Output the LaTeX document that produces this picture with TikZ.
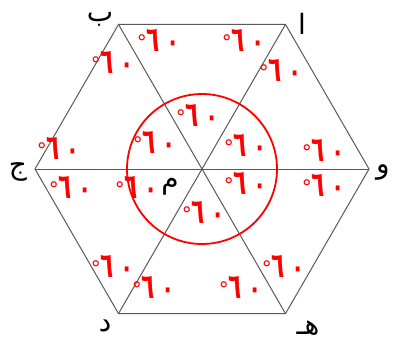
\documentclass[tikz,border=0pt]{standalone}
\usepackage{fontspec}
\usepackage{graphicx}
\newfontfamily\arabicfont[Script=Arabic]{DejaVu Sans}
\newfontfamily\degfont{DejaVu Sans}
\TeXXeTstate=1
\newcommand{\sixty}{\hbox{\degfont\fontsize{20}{20}\selectfont\raisebox{2pt}{°}}\kern0pt%
  \hbox{\scalebox{0.9}[1.45]{\arabicfont\bfseries ٦}}\kern6pt%
  \hbox{\scalebox{0.9}[1.2]{\arabicfont\bfseries ٠}}}
\begin{document}
\begin{tikzpicture}[x=1pt,y=-1pt,
  edge/.style={draw=black!65, line width=1pt},
  ang/.style={text=red, font=\arabicfont\fontsize{24}{24}\selectfont, inner sep=0pt},
  vlabel/.style={font=\arabicfont\fontsize{28}{28}\selectfont, inner sep=0pt}]
\useasboundingbox (0,0) rectangle (395,349);
\coordinate (M) at (202,169);
\coordinate (A) at (285.5,24.4);
\coordinate (B) at (118.5,24.4);
\coordinate (J) at (35,169);
\coordinate (W) at (369,169);
\coordinate (D) at (118.5,313.6);
\coordinate (H) at (285.5,313.6);
\draw[edge] (A) -- (B) -- (J) -- (D) -- (H) -- (W) -- cycle;
\draw[edge] (A) -- (D);
\draw[edge] (B) -- (H);
\draw[edge] (J) -- (W);
\draw[red, line width=1.8pt] (M) circle [radius=75pt];
% vertex letters
\node[vlabel] (lA) at (302,24) {\beginR ا\endR};
\node[vlabel] (lB) at (100,19) {\beginR ب\endR};
\node[vlabel] (lJ) at (18,172) {\beginR ج\endR};
\node[vlabel] (lW) at (383,172) {\beginR و\endR};
\node[vlabel] (lD) at (105,326) {\beginR د\endR};
\node[vlabel] (lH) at (308,328) {\beginR هـ\endR};
\node[vlabel] (lM) at (170,187) {\beginR م\endR};
% angle labels
\node[ang] (t1) at (158,40) {\sixty};
\node[ang] (t2) at (243,40) {\sixty};
\node[ang] (t3) at (112,62) {\sixty};
\node[ang] (t4) at (280,70) {\sixty};
\node[ang] (t5) at (58,148) {\sixty};
\node[ang] (t6) at (70,187) {\sixty};
\node[ang] (t7) at (323,150) {\sixty};
\node[ang] (t8) at (323,185) {\sixty};
\node[ang] (c1) at (197,115) {\sixty};
\node[ang] (c2) at (154,142) {\sixty};
\node[ang] (c3) at (245,145) {\sixty};
\node[ang] (c4) at (245,183) {\sixty};
\node[ang] (c5) at (136,187) {\sixty};
\node[ang] (c6) at (203,212) {\sixty};
\node[ang] (b1) at (112,266) {\sixty};
\node[ang] (b2) at (153,287) {\sixty};
\node[ang] (b3) at (240,287) {\sixty};
\node[ang] (b4) at (283,266) {\sixty};
\end{tikzpicture}
\end{document}
